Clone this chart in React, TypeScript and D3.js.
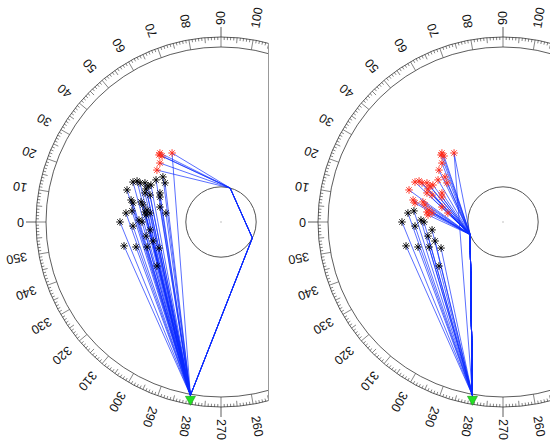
import React from 'react';
import * as d3 from 'd3';

const W = 550;
const H = 442;

// azimuth tick labels (degrees)
const tickLabels = [0, 10, 20, 30, 40, 50, 60, 70, 80, 90, 100, 110, 120, 130, 140, 150, 160, 170,
  180, 190, 200, 210, 220, 230, 240, 250, 260, 270, 280, 290, 300, 310, 320, 330, 340, 350];
const cardinal = [0, 90, 180, 270];

// events in plot units (u along azimuth 0, v along azimuth 90; ring = 100)
// uppermost events: wrapped (red) in both panels
const topEvents: [number, number][] = [
  [35.2, 38.1], [33.5, 37.5], [34.7, 39.2], [27.8, 39.2], [34.7, 33.5], [36.4, 29.5],
];
// middle events: direct (black) in panel A, wrapped (red) in panel B
const midEvents: [number, number][] = [
  [50.0, 22.7], [47.7, 23.3], [46.0, 22.2], [43.2, 22.2], [41.5, 20.5], [39.8, 21.0],
  [36.9, 23.9], [33.0, 25.6], [31.8, 22.2], [53.4, 18.2], [42.6, 18.8], [43.2, 16.5],
  [40.3, 15.3], [34.7, 16.5], [34.7, 14.2], [51.1, 12.5], [50.0, 10.8], [45.5, 11.4],
  [44.3, 9.7], [42.0, 6.8], [43.2, 5.7], [40.3, 5.1], [42.6, 4.0], [34.7, 8.5], [31.3, 5.1],
];
// lower events: direct (black) in both panels
const lowEvents: [number, number][] = [
  [54.0, 5.1], [50.6, 6.3], [57.4, 0.0], [46.6, 1.1], [44.9, 0.0], [50.0, -2.3],
  [40.3, -4.5], [42.6, -8.0], [38.6, -10.8], [55.1, -13.6], [48.3, -14.2], [42.0, -14.2],
  [35.2, -14.8], [36.4, -25.0],
];
// events of the top group that also have a direct ray
const topDirect = [3];

const station: [number, number] = [280, 100]; // azimuth, distance
const obstacleRadius = 20;
const wrapA: [number, number][] = [[105, 20], [207, 20]];
const wrapB: [number, number][] = [[339, 20]];

const toUV = (az: number, dist: number): [number, number] => [
  dist * Math.cos((az * Math.PI) / 180),
  dist * Math.sin((az * Math.PI) / 180),
];

const R_DATA = 176; // px for distance 100
const R_OUT = 185;
const R_IN = 175;
const LABEL_R = 197;

function starPath(x: number, y: number) {
  const h = 3.8;
  const d = 2.7;
  return `M${x - h},${y}L${x + h},${y}M${x},${y - h}L${x},${y + h}M${x - d},${y - d}L${x + d},${y + d}M${x - d},${y + d}L${x + d},${y - d}`;
}

type PanelProps = {
  id: string;
  cx: number;
  cy: number;
  red: [number, number][];
  black: [number, number][];
  direct: [number, number][];
  wrap: [number, number][];
};

function Panel({ id, cx, cy, red, black, direct, wrap }: PanelProps) {
  const xS = d3.scaleLinear().domain([-100, 100]).range([cx + R_DATA, cx - R_DATA]);
  const yS = d3.scaleLinear().domain([-100, 100]).range([cy + R_DATA, cy - R_DATA]);
  const rS = d3.scaleLinear().domain([0, 100]).range([0, R_DATA]);
  const line = d3.line<[number, number]>().x((d) => xS(d[0])).y((d) => yS(d[1]));

  const st = toUV(station[0], station[1]);
  const wrapUV = wrap.map((w) => toUV(w[0], w[1]));
  const clipL = cx - 221;
  const clipR = cx + 47.5;
  const edgeDy = Math.sqrt(R_OUT * R_OUT - 47.5 * 47.5);

  const ticks: React.ReactNode[] = [];
  for (let deg = 0; deg < 360; deg++) {
    const len = deg % 10 === 0 ? R_OUT - R_IN : deg % 5 === 0 ? 5.5 : 3;
    const a = (deg * Math.PI) / 180;
    const c = -Math.cos(a);
    const s = -Math.sin(a);
    ticks.push(
      <line key={deg} x1={cx + c * R_OUT} y1={cy + s * R_OUT} x2={cx + c * (R_OUT - len)} y2={cy + s * (R_OUT - len)}
        stroke="#333" strokeWidth={0.6} />
    );
  }
  cardinal.forEach((deg) => {
    const a = (deg * Math.PI) / 180;
    const c = -Math.cos(a);
    const s = -Math.sin(a);
    ticks.push(
      <line key={'c' + deg} x1={cx + c * R_OUT} y1={cy + s * R_OUT} x2={cx + c * (R_OUT + 10)} y2={cy + s * (R_OUT + 10)}
        stroke="#333" strokeWidth={0.8} />
    );
  });

  const stx = xS(st[0]);
  const sty = yS(st[1]);

  return (
    <g>
      <defs>
        <clipPath id={id}>
          <rect x={clipL} y={0} width={clipR - clipL} height={H} />
        </clipPath>
      </defs>
      <g clipPath={`url(#${id})`}>
        <circle cx={cx} cy={cy} r={R_OUT} fill="none" stroke="#333" strokeWidth={0.8} />
        <circle cx={cx} cy={cy} r={R_IN} fill="none" stroke="#333" strokeWidth={0.8} />
        {ticks}
        {tickLabels.map((deg) => {
          const a = (deg * Math.PI) / 180;
          const x = cx - LABEL_R * Math.cos(a);
          const y = cy - LABEL_R * Math.sin(a);
          return (
            <text key={deg} transform={`translate(${x},${y}) rotate(${deg + 180})`} textAnchor="start"
              dominantBaseline="central" fontSize={12.5} fontFamily="'Liberation Sans', Arial, sans-serif" fill="#111">
              {deg}
            </text>
          );
        })}
        <circle cx={xS(0)} cy={yS(0)} r={rS(obstacleRadius)} fill="none" stroke="#555" strokeWidth={1} />
        <circle cx={xS(0)} cy={yS(0)} r={0.7} fill="#aaa" />
        <g fill="none" stroke="#0a2aff" strokeOpacity={0.8} strokeWidth={0.85}>
          {black.map((e, i) => <path key={'b' + i} d={line([e, st]) || ''} />)}
          {direct.map((e, i) => <path key={'d' + i} d={line([e, st]) || ''} />)}
          {red.map((e, i) => <path key={'r' + i} d={line([e, ...wrapUV, st]) || ''} />)}
        </g>
        <g fill="none" stroke="#000" strokeWidth={0.9}>
          {black.map((e, i) => <path key={i} d={starPath(xS(e[0]), yS(e[1]))} />)}
        </g>
        <g fill="none" stroke="#ff2a1a" strokeWidth={0.9}>
          {red.map((e, i) => <path key={i} d={starPath(xS(e[0]), yS(e[1]))} />)}
        </g>
        <path d={`M${stx - 5},${sty + 1}L${stx + 5},${sty + 1}L${stx},${sty + 10}Z`} fill="#22e022" stroke="#119911" strokeWidth={0.6} />
      </g>
      <line x1={clipR} y1={cy - edgeDy} x2={clipR} y2={cy + edgeDy} stroke="#999" strokeWidth={1} />
    </g>
  );
}

export default function App() {
  const directTop = topDirect.map((i) => topEvents[i]);
  return (
    <svg width={W} height={H} style={{ position: 'absolute', left: 0, top: 0, background: '#fff' }}>
      <Panel id="clipA" cx={221} cy={222} red={topEvents} black={[...midEvents, ...lowEvents]} direct={directTop} wrap={wrapA} />
      <Panel id="clipB" cx={503} cy={222} red={[...topEvents, ...midEvents]} black={lowEvents} direct={directTop} wrap={wrapB} />
    </svg>
  );
}
